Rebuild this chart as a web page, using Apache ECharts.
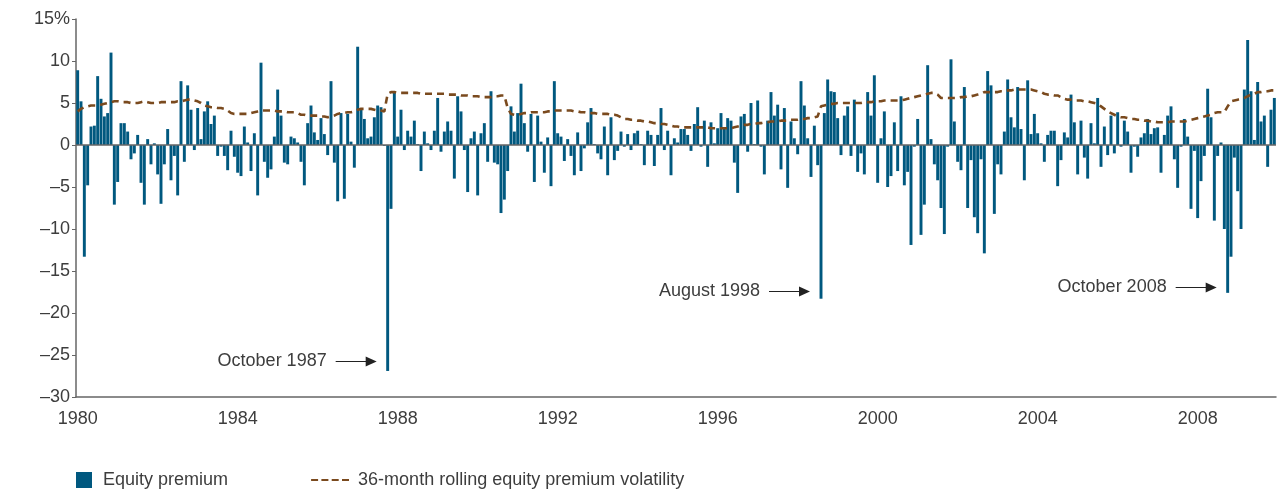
<!DOCTYPE html>
<html><head><meta charset="utf-8">
<script src="https://cdn.jsdelivr.net/npm/echarts@6/dist/echarts.min.js"></script>
<style>html,body{margin:0;padding:0;background:#fff}#c{width:1278px;height:493px}</style>
</head><body><div id="c"></div><script>
const startYear = 1980, endYear = 2009;
const categories = [];
for (let y = startYear; y <= endYear; y++) for (let m = 1; m <= 12; m++) categories.push(y + '-' + String(m).padStart(2, '0'));
const yearTickLabels = ['1980','1984','1988','1992','1996','2000','2004','2008'];

// monthly equity premium (%), Jan 1980 .. Dec 2009
const equityPremium = [
 8.9, 5.2,-13.3,-4.8, 2.2, 2.3, 8.2, 5.5, 3.4, 3.8,11.0,-7.1,
-4.4, 2.6, 2.6, 1.6,-1.7,-1.0, 1.2,-4.5,-7.1, 0.7,-2.3, 0.2,
-3.5,-7.0,-2.3, 1.9,-4.2,-1.3,-6.0, 7.6,-2.0, 7.1, 4.2,-0.6,
 4.4, 0.7, 4.0, 5.2, 2.5, 3.5,-1.3,-0.2,-1.3,-3.0, 1.7,-1.4,
-3.3,-3.7, 2.2, 0.3,-3.1, 1.4,-6.0, 9.8,-2.0,-3.9,-2.9, 1.0,
 6.6, 3.5,-2.1,-2.3, 1.0, 0.8, 0.3,-2.0,-4.8, 2.6, 4.7, 1.5,
 0.6, 3.2, 1.3,-1.2, 7.6,-2.1,-6.7, 3.8,-6.4, 3.7, 0.4,-2.7,
11.7, 4.2, 3.1, 0.8, 1.0, 3.3, 4.7, 4.5,-0.1,-26.9,-7.6, 6.2,
 1.0, 4.2,-0.6, 1.7, 1.0, 2.9, 0.1,-3.1, 1.6, 0.2,-0.6, 1.7,
 5.6,-0.8, 1.6, 2.8, 1.7,-4.0, 5.8, 4.0,-0.6,-5.6, 0.8, 1.6,
-6.0, 1.4, 2.6,-2.0, 6.4,-2.1,-2.3,-8.1,-6.5,-3.1, 4.6, 1.6,
 3.8, 7.3, 2.6,-0.8, 3.7,-4.4, 3.5, 0.4,-3.3, 0.9,-4.9, 7.6,
 1.4, 1.0,-1.9, 0.7,-1.3,-3.6, 1.5,-3.1,-0.4, 2.7, 4.4, 0.1,
-1.0,-1.7, 2.2,-3.6, 3.3,-1.8,-0.7, 1.6,-0.2, 1.3,-0.6, 1.4,
 1.7, 0.1,-2.4, 1.7, 1.2,-2.5, 1.2, 4.4,-0.6, 1.7,-3.6, 0.8,
 0.3, 1.9, 1.9, 1.2,-0.7, 2.5, 4.5,-0.2, 2.9,-2.6, 2.7, 0.2,
 2.0, 3.8, 2.0, 3.2, 2.9,-2.1,-5.7, 3.4, 3.7,-0.8, 5.0, 0.1,
 5.3,-0.2,-3.5, 2.9, 6.3, 3.5, 4.8,-2.9, 4.4,-5.1, 2.8, 0.8,
-1.1, 7.6, 4.7, 0.8,-3.8, 2.3,-2.4,-18.3, 3.8, 7.8, 6.4, 6.3,
 3.2,-1.2, 3.5, 4.6,-1.3, 5.4,-3.2,-1.0,-3.5, 6.3, 3.5, 8.3,
-4.5, 0.8, 4.0,-5.0,-3.7, 2.7,-3.1, 5.8,-4.8,-3.2,-11.9,-0.2,
 3.1,-10.7,-7.1, 9.5, 0.7,-2.3,-4.2,-7.5,-10.6,-0.2,10.2, 2.8,
-2.0,-3.0, 6.9,-7.5,-1.8,-8.6,-10.5,-1.7,-12.9, 8.8, 7.1,-8.2,
-2.3,-3.5, 1.6, 7.8, 3.3, 2.1, 6.9, 1.9,-4.2, 7.7, 1.3, 3.7,
 1.4, 0.2,-2.0, 1.2, 1.7, 1.7,-4.9,-1.8, 1.5, 0.9, 6.0, 2.7,
-3.5, 2.9,-1.5,-4.0, 2.6, 0.2, 5.6,-2.6, 2.2,-1.2, 3.5,-1.0,
 3.9,-0.2, 2.9, 1.6,-3.3,-0.2,-1.4, 0.9, 1.4, 3.1, 1.3, 2.0,
 2.1,-3.3, 1.2, 3.5, 4.6,-1.7,-5.1,-0.2, 3.1, 1.0,-7.6,-0.7,
-8.7,-4.3,-1.3, 6.7, 3.3,-9.0,-1.3, 0.3,-10.0,-17.6,-13.3,-1.5,
-5.5,-10.0, 6.6,12.5, 6.4, 0.6, 7.5, 2.8, 3.5,-2.6, 4.2, 5.6
];

// 36-month rolling equity premium volatility (%)
const rollingVolatility = [
4.0,4.3,4.5,4.6,4.7,4.7,4.7,4.8,4.9,5.0,5.1,5.2,
5.2,5.1,5.1,5.1,5.0,5.0,5.0,5.1,5.2,5.1,5.0,5.0,
5.0,5.1,5.1,5.1,5.1,5.1,5.2,5.2,5.3,5.4,5.4,5.3,
5.2,5.0,4.7,4.6,4.5,4.5,4.4,4.4,4.3,4.1,3.8,3.7,
3.7,3.7,3.7,3.7,3.8,3.9,4.0,4.1,4.1,4.1,4.1,4.1,
4.0,4.0,4.0,3.9,3.9,3.9,3.8,3.6,3.6,3.5,3.5,3.5,
3.5,3.4,3.4,3.3,3.4,3.5,3.7,3.8,3.8,3.9,3.9,4.0,
4.2,4.3,4.3,4.3,4.3,4.2,4.1,4.1,4.0,6.1,6.3,6.3,
6.2,6.2,6.2,6.2,6.2,6.2,6.2,6.1,6.1,6.1,6.1,6.1,
6.1,6.1,6.1,6.0,6.0,6.0,6.0,5.9,5.9,5.9,5.8,5.8,
5.8,5.7,5.7,5.7,5.7,5.8,5.8,5.9,5.9,4.4,3.7,3.6,
3.6,3.7,3.8,3.8,3.9,3.9,3.9,3.9,3.9,4.0,4.0,4.1,
4.1,4.1,4.1,4.1,4.1,4.0,4.0,3.9,3.9,3.8,3.8,3.8,
3.7,3.7,3.7,3.7,3.6,3.6,3.5,3.3,3.1,3.1,3.0,3.0,
2.9,2.9,2.8,2.8,2.7,2.6,2.6,2.5,2.5,2.4,2.3,2.2,
2.2,2.1,2.1,2.1,2.1,2.1,2.1,2.1,2.1,2.1,2.0,2.0,
2.0,2.0,2.0,2.0,2.0,2.1,2.2,2.3,2.4,2.4,2.5,2.5,
2.6,2.6,2.7,2.7,2.8,2.8,2.8,2.9,2.9,2.9,3.0,3.0,
3.0,3.1,3.1,3.2,3.2,3.3,3.4,4.6,4.7,4.8,4.9,4.9,
5.0,5.0,5.0,5.0,5.0,5.0,5.0,5.0,5.1,5.1,5.1,5.2,
5.2,5.2,5.3,5.3,5.3,5.3,5.3,5.3,5.4,5.5,5.6,5.7,
5.8,5.9,6.0,6.1,6.2,6.2,6.0,5.6,5.6,5.6,5.6,5.6,
5.6,5.7,5.7,5.8,5.8,5.9,6.0,6.1,6.3,6.3,6.3,6.3,
6.3,6.4,6.4,6.5,6.5,6.6,6.6,6.6,6.6,6.6,6.6,6.5,
6.4,6.3,6.1,6.0,6.0,5.9,5.9,5.7,5.5,5.4,5.4,5.3,
5.3,5.3,5.2,5.2,5.1,5.0,4.9,4.6,4.3,4.0,3.8,3.6,
3.4,3.3,3.3,3.2,3.1,3.1,3.0,3.0,2.9,2.9,2.8,2.8,
2.7,2.7,2.7,2.7,2.8,2.8,2.8,2.8,2.8,2.9,3.0,3.1,
3.2,3.3,3.4,3.5,3.6,3.8,3.9,3.9,3.9,4.6,5.2,5.3,
5.4,5.5,5.6,5.8,6.0,6.1,6.3,6.3,6.4,6.4,6.5,6.5
];

const annotationMonths = ['1987-10','1998-08','2008-10'];
const annotationTexts = ['October 1987','August 1998','October 2008'];
const annotationLevels = [-25.7,-17.4,-16.9];

const BAR = '#00587f', VOL = '#7a4a1e', TXT = '#3d3d3d', FONT = '"Liberation Sans", Arial, sans-serif', FS = 18;
const isYearTick = (i, v) => v.endsWith('-01') && yearTickLabels.includes(v.slice(0, 4));

const chart = echarts.init(document.getElementById('c'), null, {renderer: 'canvas'});
chart.setOption({
  animation: false,
  textStyle: {fontFamily: FONT},
  grid: {left: 76, right: 2, top: 19, bottom: 96},
  legend: [
    {data: ['Equity premium'], left: 71, top: 466, icon: 'rect', itemWidth: 16, itemHeight: 16,
     textStyle: {fontSize: FS, color: TXT, fontFamily: FONT, padding: [0,0,0,6]}},
    {data: ['36-month rolling equity premium volatility'], left: 305, top: 466, itemWidth: 38, itemHeight: 16,
     itemStyle: {opacity: 0},
     lineStyle: {color: VOL, width: 2.2, type: [7, 3.3]},
     textStyle: {fontSize: FS, color: TXT, fontFamily: FONT, padding: [0,0,0,4]}}
  ],
  xAxis: {
    type: 'category', data: categories, boundaryGap: true,
    axisLine: {onZero: false, lineStyle: {color: '#666', width: 1.5}},
    axisTick: {interval: isYearTick, inside: true, length: 9, lineStyle: {color: '#666', width: 1.2}},
    axisLabel: {interval: isYearTick, formatter: v => v.slice(0, 4), fontSize: FS, color: TXT, margin: 13, fontFamily: FONT},
    splitLine: {show: false}
  },
  yAxis: {
    type: 'value', min: -30, max: 15, interval: 5,
    axisLine: {show: true, lineStyle: {color: '#666', width: 1.5}},
    axisTick: {show: true, length: 4, lineStyle: {color: '#666'}},
    axisLabel: {fontSize: FS, color: TXT, margin: 6, fontFamily: FONT,
      formatter: v => v === 15 ? '15%' : (v < 0 ? '\u2013' + Math.abs(v) : String(v))},
    splitLine: {show: false}
  },
  series: [
    {name: 'Equity premium', type: 'bar', data: equityPremium, barCategoryGap: '12%',
     itemStyle: {color: BAR},
     markLine: {silent: true, symbol: 'none', label: {show: false},
       lineStyle: {color: '#666', width: 1.5, type: 'solid'}, data: [{yAxis: 0}]}},
    {name: '36-month rolling equity premium volatility', type: 'line', data: rollingVolatility,
     symbol: 'none', z: 5,
     itemStyle: {color: VOL},
     lineStyle: {color: VOL, width: 2.6, type: [7, 5]}}
  ]
});

// annotations tied to the data scale
const gfx = [];
annotationMonths.forEach((m, k) => {
  const idx = categories.indexOf(m);
  const p = chart.convertToPixel({seriesIndex: 0}, [idx, annotationLevels[k]]);
  const tip = p[0] - 11, tail = tip - 41, y = Math.round(p[1]) + 0.5;
  gfx.push({type: 'line', shape: {x1: tail, y1: y, x2: tip - 8, y2: y}, style: {stroke: '#222', lineWidth: 1.2}});
  gfx.push({type: 'polygon', shape: {points: [[tip, y], [tip - 11, y - 5], [tip - 11, y + 5]]}, style: {fill: '#222'}});
  gfx.push({type: 'text', x: tail - 9, y: y, style: {text: annotationTexts[k], fontSize: FS, fill: TXT, fontFamily: FONT, align: 'right', verticalAlign: 'middle'}});
});
chart.setOption({graphic: gfx});
</script></body></html>
